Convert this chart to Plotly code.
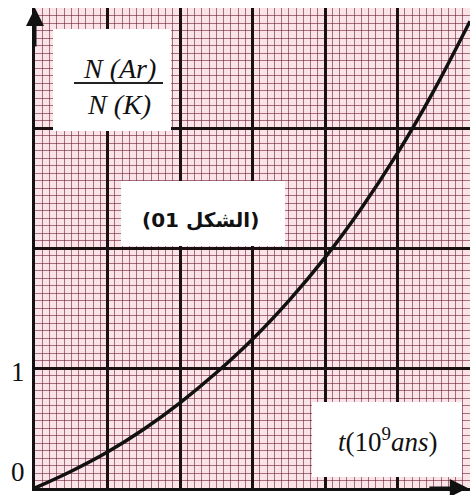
"""Graph-paper chart: N(Ar)/N(K) against t (10^9 ans)."""
import plotly.graph_objects as go

# Curve (t in 10^9 ans, ratio N(Ar)/N(K))
t_values = [0, 0.5, 1, 1.5, 2, 2.5, 3, 3.5, 4, 4.5, 5, 5.5, 6]
ratio_values = [0, 0.14, 0.30, 0.49, 0.71, 0.96, 1.24, 1.56, 1.92, 2.33, 2.79, 3.31, 3.89]

# Axis labels shown on the figure
y_tick_values = [0, 1]
y_tick_labels = ['0', '1']
y_label_top = 'N (Ar)'
y_label_bottom = 'N (K)'
x_label = '<i>t</i>(10<sup>9</sup><i>ans</i>)'
figure_label = '(الشكل 01)'

W, H = 470, 495
L, R, T, B = 35, 0, 8, 7
PW, PH = W - L - R, H - T - B


def px(x):
    return (x - L) / PW


def py(y):
    return (H - B - y) / PH


fig = go.Figure()

fig.add_trace(go.Scatter(
    x=t_values,
    y=ratio_values,
    mode='lines',
    line=dict(color='#111111', width=3.5, shape='spline', smoothing=1.0),
    showlegend=False,
    hoverinfo='skip'
))

# White label boxes over the graph paper
for x0, x1, y0, y1 in [(53, 171, 29, 131), (121, 285, 181, 246), (312, 462, 402, 477)]:
    fig.add_shape(type='rect', xref='paper', yref='paper',
                  x0=px(x0), x1=px(x1), y0=py(y1), y1=py(y0),
                  fillcolor='white', line=dict(width=0), layer='above')

# Fraction bar
fig.add_shape(type='line', xref='paper', yref='paper',
              x0=px(74), x1=px(163), y0=py(83), y1=py(83),
              line=dict(color='#222222', width=2), layer='above')

serif = 'Liberation Serif, Times New Roman, serif'
text_style = dict(xref='paper', yref='paper', showarrow=False,
                  xanchor='center', yanchor='middle')
fig.add_annotation(text=f'<i>{y_label_top}</i>', x=px(119), y=py(68),
                   font=dict(family=serif, size=28, color='#111111'), **text_style)
fig.add_annotation(text=f'<i>{y_label_bottom}</i>', x=px(119), y=py(105),
                   font=dict(family=serif, size=28, color='#111111'), **text_style)
fig.add_annotation(text=f'<b>{figure_label}</b>', x=px(200), y=py(220),
                   font=dict(family='DejaVu Sans, sans-serif', size=20, color='#111111'),
                   **text_style)
fig.add_annotation(text=x_label, x=px(387), y=py(440),
                   font=dict(family=serif, size=27, color='#111111'), **text_style)

# Tick labels 0 and 1 left of the axis
for val, lab in zip(y_tick_values, y_tick_labels):
    fig.add_annotation(text=lab, xref='paper', yref='y', x=px(18), y=val,
                       xanchor='center', yanchor='middle',
                       yshift=16 if val == 0 else -4, showarrow=False,
                       font=dict(family=serif, size=27, color='#111111'))

# Axis arrowheads
fig.add_annotation(x=0, y=1, xref='paper', yref='paper', ax=0, ay=40,
                   showarrow=True, arrowhead=2, arrowsize=1.2, arrowwidth=3,
                   arrowcolor='#111111', text='')
fig.add_annotation(x=0.995, y=0, xref='paper', yref='paper', ax=-40, ay=0,
                   showarrow=True, arrowhead=2, arrowsize=1.2, arrowwidth=3,
                   arrowcolor='#111111', text='')

grid_axis = dict(
    showticklabels=False,
    ticks='',
    zeroline=False,
    showgrid=True,
    gridcolor='#1a1012',
    gridwidth=2.5,
    showline=True,
    linecolor='#111111',
    linewidth=3,
    fixedrange=True,
)
minor_color = 'rgba(110,30,48,0.6)'

fig.update_xaxes(range=[0, 6], dtick=1, tick0=0,
                 minor=dict(dtick=0.1, tick0=0, showgrid=True,
                            gridcolor=minor_color, gridwidth=1),
                 **grid_axis)
fig.update_yaxes(range=[0, 4], dtick=1, tick0=0,
                 minor=dict(dtick=1 / 16, tick0=0, showgrid=True,
                            gridcolor=minor_color, gridwidth=1),
                 **grid_axis)

fig.update_layout(
    width=W,
    height=H,
    margin=dict(l=L, r=R, t=T, b=B),
    plot_bgcolor='#fbe4e9',
    paper_bgcolor='white',
    showlegend=False,
)

fig.write_html("out.html", post_script="document.body.style.margin='0';",
               config={'displayModeBar': False})
